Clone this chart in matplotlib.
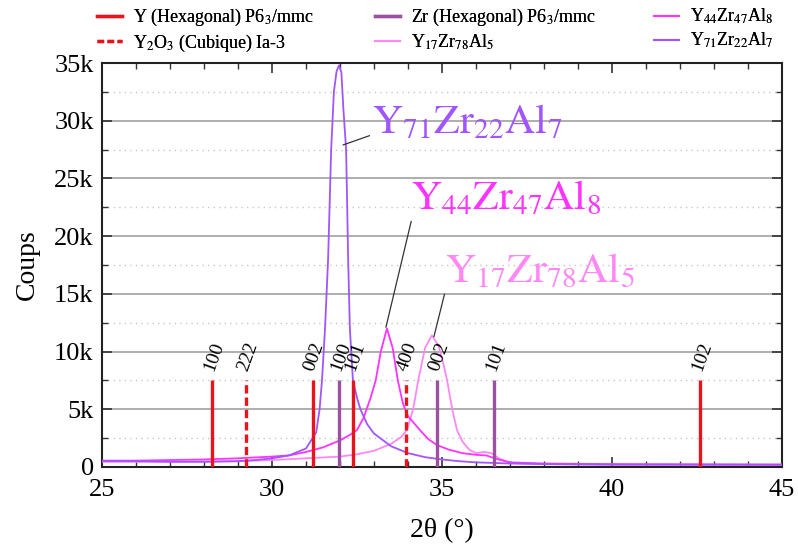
import matplotlib
matplotlib.use("Agg")
import matplotlib.pyplot as plt
from matplotlib.ticker import MultipleLocator, FuncFormatter
from matplotlib.lines import Line2D

plt.rcParams['font.family'] = ['Liberation Serif', 'DejaVu Serif']
plt.rcParams['mathtext.fontset'] = 'stix'

# ---- data ----
x_y71 = [25, 26, 27, 28, 29, 29.5, 30, 30.5, 31, 31.3, 31.4, 31.47, 31.56, 31.65, 31.74, 31.82,
         31.9, 31.97, 32.04, 32.1, 32.18, 32.24, 32.29, 32.38, 32.5, 32.6, 32.8, 33.0, 33.5,
         34.0, 34.5, 35.0, 35.5, 36, 37, 38, 40, 42, 45]
y_y71 = [0.5, 0.5, 0.45, 0.45, 0.5, 0.6, 0.75, 1.0, 1.6, 3.0, 5.0, 7.5, 12, 18, 27.5, 32.5,
         34.3, 34.8, 34.2, 31, 27.5, 18, 12, 7.5, 6.0, 5.0, 3.7, 2.9, 1.8,
         1.2, 0.85, 0.65, 0.5, 0.4, 0.3, 0.25, 0.2, 0.2, 0.2]

x_y44 = [25, 26, 27, 28, 29, 30, 30.5, 31, 31.5, 32, 32.3, 32.5, 32.7, 32.9, 33.05, 33.2,
         33.38, 33.55, 33.7, 33.85, 34.0, 34.35, 34.6, 34.85, 35.2, 35.6, 36.0, 36.3, 36.6,
         37.0, 38, 40, 45]
y_y44 = [0.55, 0.55, 0.6, 0.65, 0.75, 0.9, 1.0, 1.3, 1.7, 2.3, 2.8, 3.2, 4.3, 6.0, 7.5, 10.0,
         12.0, 10.3, 7.5, 5.5, 4.4, 3.2, 2.4, 1.9, 1.5, 1.2, 1.05, 1.0, 0.7,
         0.4, 0.3, 0.25, 0.2]

x_y17 = [25, 27, 29, 30, 31, 32, 32.5, 33, 33.5, 33.8, 33.97, 34.15, 34.3, 34.5, 34.7, 34.9,
         35.05, 35.15, 35.3, 35.44, 35.6, 35.8, 36.0, 36.25, 36.45, 36.7, 37.0, 38, 40, 45]
y_y17 = [0.45, 0.45, 0.5, 0.6, 0.75, 0.9, 1.1, 1.4, 2.0, 2.6, 3.2, 5.0, 7.5, 10.3, 11.4, 10.5,
         8.8, 7.5, 5.0, 3.2, 2.2, 1.5, 1.2, 1.3, 1.2, 0.7, 0.35, 0.25, 0.2, 0.2]

y_hex_pos = [28.24, 31.2, 32.38, 42.6]
y_hex_hkl = ['100', '002', '101', '102']
y2o3_pos = [29.24, 33.94]
y2o3_hkl = ['222', '400']
zr_pos = [31.97, 34.85, 36.53]
zr_hkl = ['100', '002', '101']
stick_height = 7.5

c_red = '#e8141c'
c_zr = '#9a52a0'
c_y71 = '#a055ff'
c_y44 = '#ff33ff'
c_y17 = '#ff88f4'

fig = plt.figure(figsize=(7.98, 5.47), dpi=100)
ax = fig.add_axes([0.1278, 0.1463, 0.8522, 0.7385])

ax.set_xlim(25, 45)
ax.set_ylim(0, 35)

# grid
ax.yaxis.set_major_locator(MultipleLocator(5))
ax.yaxis.set_minor_locator(MultipleLocator(2.5))
ax.xaxis.set_major_locator(MultipleLocator(5))
ax.xaxis.set_minor_locator(MultipleLocator(1))
ax.grid(axis='y', which='major', color='#a8a8a8', lw=1.3, ls='-')
ax.grid(axis='y', which='minor', color='#c8c8c8', lw=1.0, ls=(0, (1, 3)))
ax.set_axisbelow(True)

# curves
ax.plot(x_y17, y_y17, color=c_y17, lw=1.3, zorder=3)
ax.plot(x_y44, y_y44, color=c_y44, lw=1.3, zorder=3)
ax.plot(x_y71, y_y71, color=c_y71, lw=1.3, zorder=3)

# sticks
ax.vlines(y_hex_pos, 0, stick_height, color=c_red, lw=2.4, zorder=4)
ax.vlines(y2o3_pos, 0, stick_height, color=c_red, lw=2.4, linestyles=(0, (2.5, 1.2)), zorder=4)
ax.vlines(zr_pos, 0, stick_height, color=c_zr, lw=2.4, zorder=4)

for pos_list, labels in ((y_hex_pos, y_hex_hkl), (y2o3_pos, y2o3_hkl), (zr_pos, zr_hkl)):
    for p, l in zip(pos_list, labels):
        ax.text(p + 0.05, stick_height + 0.6, l, rotation=70, ha='center', va='bottom',
                fontsize=14, zorder=5)

# annotations
ann_kw = dict(fontsize=30, ha='left', va='baseline')
ax.annotate(r'$\mathrm{Y_{71}Zr_{22}Al_{7}}$', xy=(32.09, 27.9), xytext=(32.95, 28.9),
            color=c_y71, **ann_kw,
            arrowprops=dict(arrowstyle='-', color='#333333', lw=0.9, shrinkA=0, shrinkB=0,
                            relpos=(0, 0.2)))
ax.annotate(r'$\mathrm{Y_{44}Zr_{47}Al_{8}}$', xy=(33.35, 12.1), xytext=(34.1, 22.3),
            color=c_y44, **ann_kw,
            arrowprops=dict(arrowstyle='-', color='#333333', lw=0.9, shrinkA=0, shrinkB=0,
                            relpos=(0, -0.05)))
ax.annotate(r'$\mathrm{Y_{17}Zr_{78}Al_{5}}$', xy=(34.76, 11.27), xytext=(35.08, 16.0),
            color=c_y17, **ann_kw,
            arrowprops=dict(arrowstyle='-', color='#333333', lw=0.9, shrinkA=0, shrinkB=0,
                            relpos=(0, -0.05)))

# ticks
ax.tick_params(axis='both', which='both', direction='in', top=True, right=True,
               color='#333333')
ax.tick_params(which='major', length=7, width=1.2, labelsize=19)
ax.tick_params(which='minor', length=4, width=1.0)
ax.tick_params(axis='x', pad=9)
ax.tick_params(axis='y', pad=6)
ax.yaxis.set_major_formatter(FuncFormatter(lambda v, p: '0' if v == 0 else f'{int(v)}k'))
for s in ax.spines.values():
    s.set_linewidth(1.5)
    s.set_color('#222222')

ax.set_xlabel('2θ (°)', fontsize=20, labelpad=12)
ax.set_ylabel('Coups', fontsize=20, labelpad=10)

# legend: three columns placed separately
columns = [
    ([Line2D([], [], color=c_red, lw=2.4),
      Line2D([], [], color=c_red, lw=2.4, ls=(0, (2.0, 1.0)))],
     [r'Y (Hexagonal) P6$_3$/mmc', r'Y$_2$O$_3$ (Cubique) Ia-3'], 97),
    ([Line2D([], [], color=c_zr, lw=2.4),
      Line2D([], [], color=c_y17, lw=1.5)],
     [r'Zr (Hexagonal) P6$_3$/mmc', r'Y$_{17}$Zr$_{78}$Al$_5$'], 375),
    ([Line2D([], [], color=c_y44, lw=1.5),
      Line2D([], [], color=c_y71, lw=1.5)],
     [r'Y$_{44}$Zr$_{47}$Al$_8$', r'Y$_{71}$Zr$_{22}$Al$_7$'], 654),
]
for hs, ls_, xpx in columns:
    leg = fig.legend(hs, ls_, loc='upper left', bbox_to_anchor=(xpx / 798, 1 - 7 / 547),
                     frameon=False, fontsize=13, handlelength=1.4, labelspacing=0.25,
                     handletextpad=0.6, borderpad=0, borderaxespad=0)
    fig.add_artist(leg)

fig.savefig('out.png', dpi=100)
